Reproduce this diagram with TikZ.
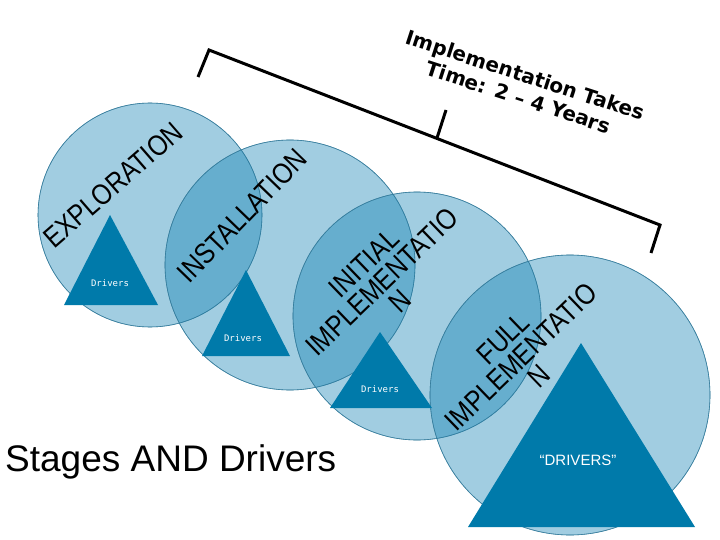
\documentclass[tikz,border=0pt]{standalone}
\usepackage{fontspec}
\setmainfont{Liberation Sans}
\newfontfamily\cond{Liberation Sans}[FakeStretch=0.85]
\newfontfamily\dvs{DejaVu Sans}
\newfontfamily\dvm{DejaVu Sans Mono}
\definecolor{sblue}{RGB}{0,120,174}
\definecolor{tblue}{RGB}{0,122,170}
\begin{document}
\begin{tikzpicture}[x=1pt,y=-1pt,
  circ/.style={fill=sblue,fill opacity=0.37,draw=sblue!60!gray,draw opacity=0.8,line width=0.6pt},
  tri/.style={fill=tblue,draw=none},
  lab/.style={font=\cond\fontsize{29}{26}\selectfont,align=center,inner sep=0pt},
  drv/.style={font=\dvm\fontsize{9}{10}\selectfont,text=white,inner sep=0pt},
  brk/.style={line width=3pt}]
\useasboundingbox (0,0) rectangle (720,540);
\fill[circ] (150,215) circle (112);
\fill[circ] (290,265) circle (125);
\fill[circ] (417,316) circle (124);
\fill[circ] (570,395) circle (140);
\draw[circ,fill=none] (150,215) circle (112);
\draw[circ,fill=none] (290,265) circle (125);
\draw[circ,fill=none] (417,316) circle (124);
\draw[circ,fill=none] (570,395) circle (140);
% triangles
\fill[tri] (110,215) -- (158,305) -- (64,305) -- cycle;
\fill[tri] (246,270) -- (290,356) -- (202,356) -- cycle;
\fill[tri] (380,332) -- (432,408) -- (330,408) -- cycle;
\fill[tri] (581,343) -- (695,527) -- (468,527) -- cycle;
\node[drv] (d1) at (110,283) {Drivers};
\node[drv] (d2) at (243,338) {Drivers};
\node[drv] (d3) at (380,389) {Drivers};
\node[font=\fontsize{15}{16}\selectfont,text=white,inner sep=0pt] (d4) at (578,460) {“DRIVERS”};
% stage labels
\node[lab,rotate=41] (s1) at (113,185) {EXPLORATION};
\node[lab,rotate=46] (s2) at (242,216) {INSTALLATION};
\node[lab,rotate=44] (s3) at (382,282) {INITIAL\\IMPLEMENTATIO\\N};
\node[lab,rotate=44] (s4) at (521,357) {FULL\\IMPLEMENTATIO\\N};
% bracket
\coordinate (bl) at (209,50);
\coordinate (br) at (660,225);
\coordinate (blt) at (198,77);
\coordinate (brt) at (651,253);
\coordinate (bm) at (437,138);
\coordinate (bmt) at (446,110);
\draw[brk,line cap=butt,line join=miter] (blt) -- (bl) -- (br) -- (brt);
\draw[brk] (bm) -- (bmt);
\node[font=\dvs\bfseries\fontsize{20}{23}\selectfont,rotate=-18,align=center,inner sep=0pt] (imp) at (522,86) {Implementation Takes\\Time: 2 – 4 Years};
\node[font=\fontsize{37}{38}\selectfont,anchor=west,inner sep=0pt] (title) at (5,462) {Stages AND Drivers};
\end{tikzpicture}
\end{document}
